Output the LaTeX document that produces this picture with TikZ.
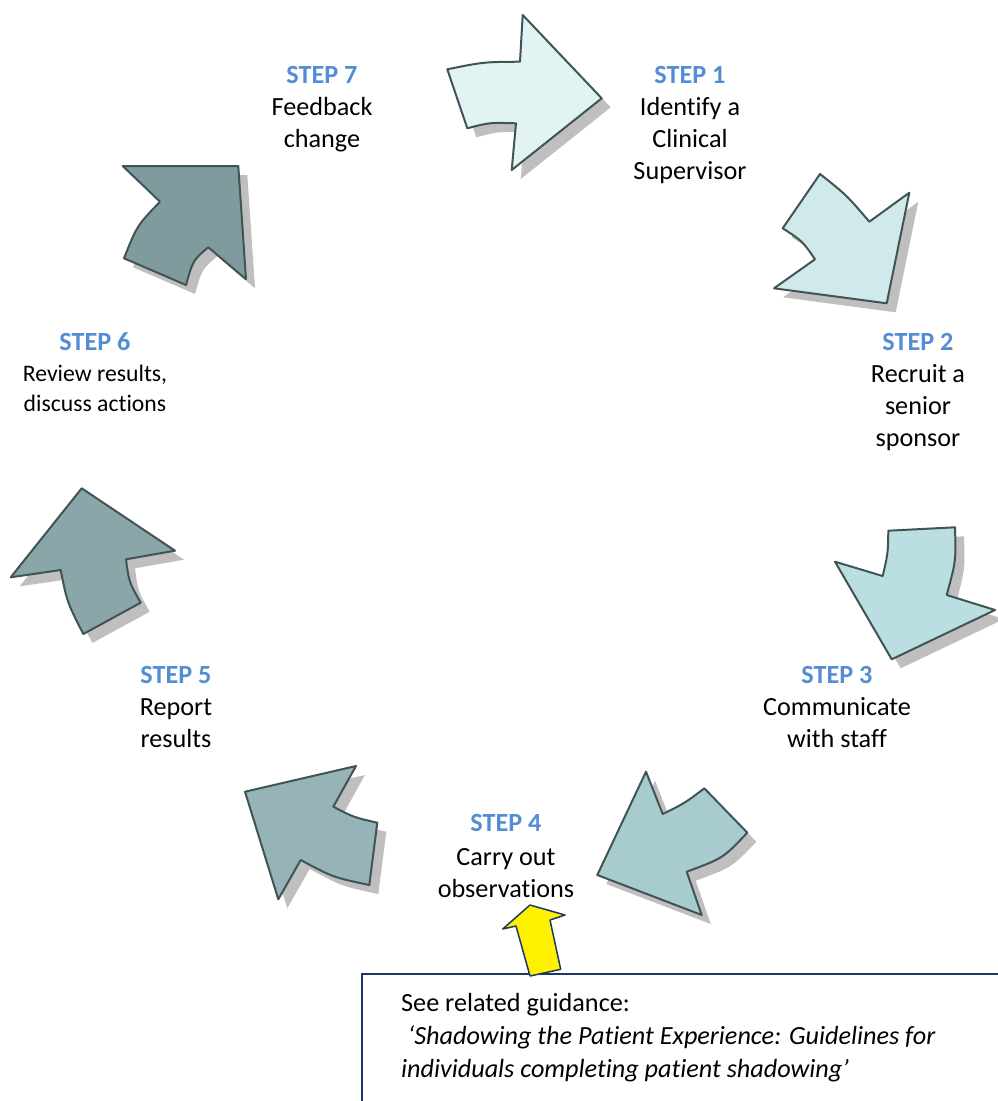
\documentclass[tikz,border=0pt]{standalone}
\usepackage{fontspec}
\setmainfont{Carlito}[Ligatures=NoCommon]
\definecolor{aone}{RGB}{226,243,244}
\definecolor{atwo}{RGB}{208,234,236}
\definecolor{athree}{RGB}{186,222,226}
\definecolor{afour}{RGB}{168,203,206}
\definecolor{afive}{RGB}{150,180,183}
\definecolor{asix}{RGB}{138,166,169}
\definecolor{aseven}{RGB}{128,155,157}
\definecolor{arrowline}{RGB}{64,84,86}
\definecolor{shadowgray}{RGB}{191,191,191}
\definecolor{stepblue}{RGB}{84,141,212}
\definecolor{boxnavy}{RGB}{31,56,100}
\tikzset{
  steparrow/.style={fill=#1, draw=arrowline, line width=2pt, line join=round,
    preaction={fill=shadowgray, draw=none, transform canvas={shift={(9,9)}}}},
  head/.style={anchor=base, inner sep=0pt, text=stepblue, font=\fontsize{26.2}{32}\selectfont\bfseries},
  body/.style={anchor=north, inner sep=0pt, align=center, font=\fontsize{26.2}{32}\selectfont},
  smallbody/.style={anchor=north, inner sep=0pt, align=center, font=\fontsize{23.7}{30}\selectfont},
  guidetext/.style={anchor=north west, inner sep=0pt, align=left, font=\fontsize{26.2}{33}\selectfont},
}
\begin{document}
\begin{tikzpicture}[x=1pt,y=-1pt]
\useasboundingbox (0,0) rectangle (998,1101);
\clip (0,0) rectangle (998,1101);
% arrow 1
\path[steparrow=aone] (447.3,69.3) .. controls (483.2,62) .. (520,61.7) -- (522.7,15) -- (601.7,98.3) -- (511.7,170) -- (516,123.3) .. controls (489.4,122.5) .. (467.3,128.3) -- cycle;
% arrow 2
\path[steparrow=atwo] (820,174) .. controls (846.5,195) .. (869.3,221.7) -- (909.3,192.7) -- (886.7,303.3) -- (774,288.3) -- (815,259.3) .. controls (802.5,241.1) .. (782.7,228.3) -- cycle;
% arrow 3
\path[steparrow=athree] (888.3,530.7) -- (955,527.3) .. controls (956,561) .. (946.7,595) -- (995,610) -- (891.7,659.3) -- (835,561.7) -- (882.7,576) .. controls (888,553) .. (888.3,530.7) -- cycle;
% arrow 4
\path[steparrow=afour] (646,771.7) -- (662.7,814) .. controls (685,803) .. (704.3,788.3) -- (747.3,832.7) .. controls (723.2,858.2) .. (686.7,871.7) -- (701.7,915) -- (597.3,875) -- cycle;
% arrow 5
\path[steparrow=afive] (245,791.7) -- (356,766) -- (333.3,806.7) .. controls (354,817.4) .. (377.3,822.7) -- (369.3,885) .. controls (332.7,877.2) .. (300.7,860) -- (278.3,899.3) -- cycle;
% arrow 6
\path[steparrow=asix] (81.7,488.3) -- (175,550.7) -- (126,559.3) .. controls (129,582) .. (140.7,602.7) -- (83.3,634) .. controls (67,602) .. (60.7,570) -- (10.7,577.3) -- cycle;
% arrow 7
\path[steparrow=aseven] (122.7,166) -- (238.3,166) -- (246,279.3) -- (208.3,247.3) .. controls (193,260.2) .. (186,285) -- (124,258.3) .. controls (137,225.6) .. (160,201.7) -- cycle;

% labels
\node[head] (h7) at (322,83) {STEP 7};
\node[body] (b7) at (322,93) {\rule{0pt}{22pt}Feedback\\change};
\node[head] (h1) at (690,83) {STEP 1};
\node[body] (b1) at (690,93) {\rule{0pt}{22pt}Identify a\\Clinical\\Supervisor};
\node[head] (h2) at (918,350) {STEP 2};
\node[body] (b2) at (918,360) {\rule{0pt}{22pt}Recruit a\\senior\\sponsor};
\node[head] (h3) at (837,683) {STEP 3};
\node[body] (b3) at (837,693) {\rule{0pt}{22pt}Communicate\\with staff};
\node[head] (h4) at (506,831) {STEP 4};
\node[body] (b4) at (506,843) {\rule{0pt}{22pt}Carry out\\observations};
\node[head] (h5) at (176,683) {STEP 5};
\node[body] (b5) at (176,693) {\rule{0pt}{22pt}Report\\results};
\node[head] (h6) at (95,350) {STEP 6};
\node[smallbody] (b6) at (95,359) {\rule{0pt}{22pt}Review results,\\discuss actions};

% guidance box
\draw[boxnavy, line width=2pt] (362,974) rectangle (1010,1120);
\node[guidetext] (guide) at (401,989) {\rule{0pt}{22pt}See related guidance:\\\hspace{0.25em}\itshape ‘Shadowing the Patient Experience: Guidelines for\\\itshape individuals completing patient shadowing’};
% yellow arrow
\path[fill=yellow, draw=boxnavy, line width=1.5pt, line join=round] (530,905) -- (565,915) -- (550,920) -- (560.7,969.3) -- (530,976) -- (516,926) -- (502.7,929) -- cycle;
\end{tikzpicture}
\end{document}
